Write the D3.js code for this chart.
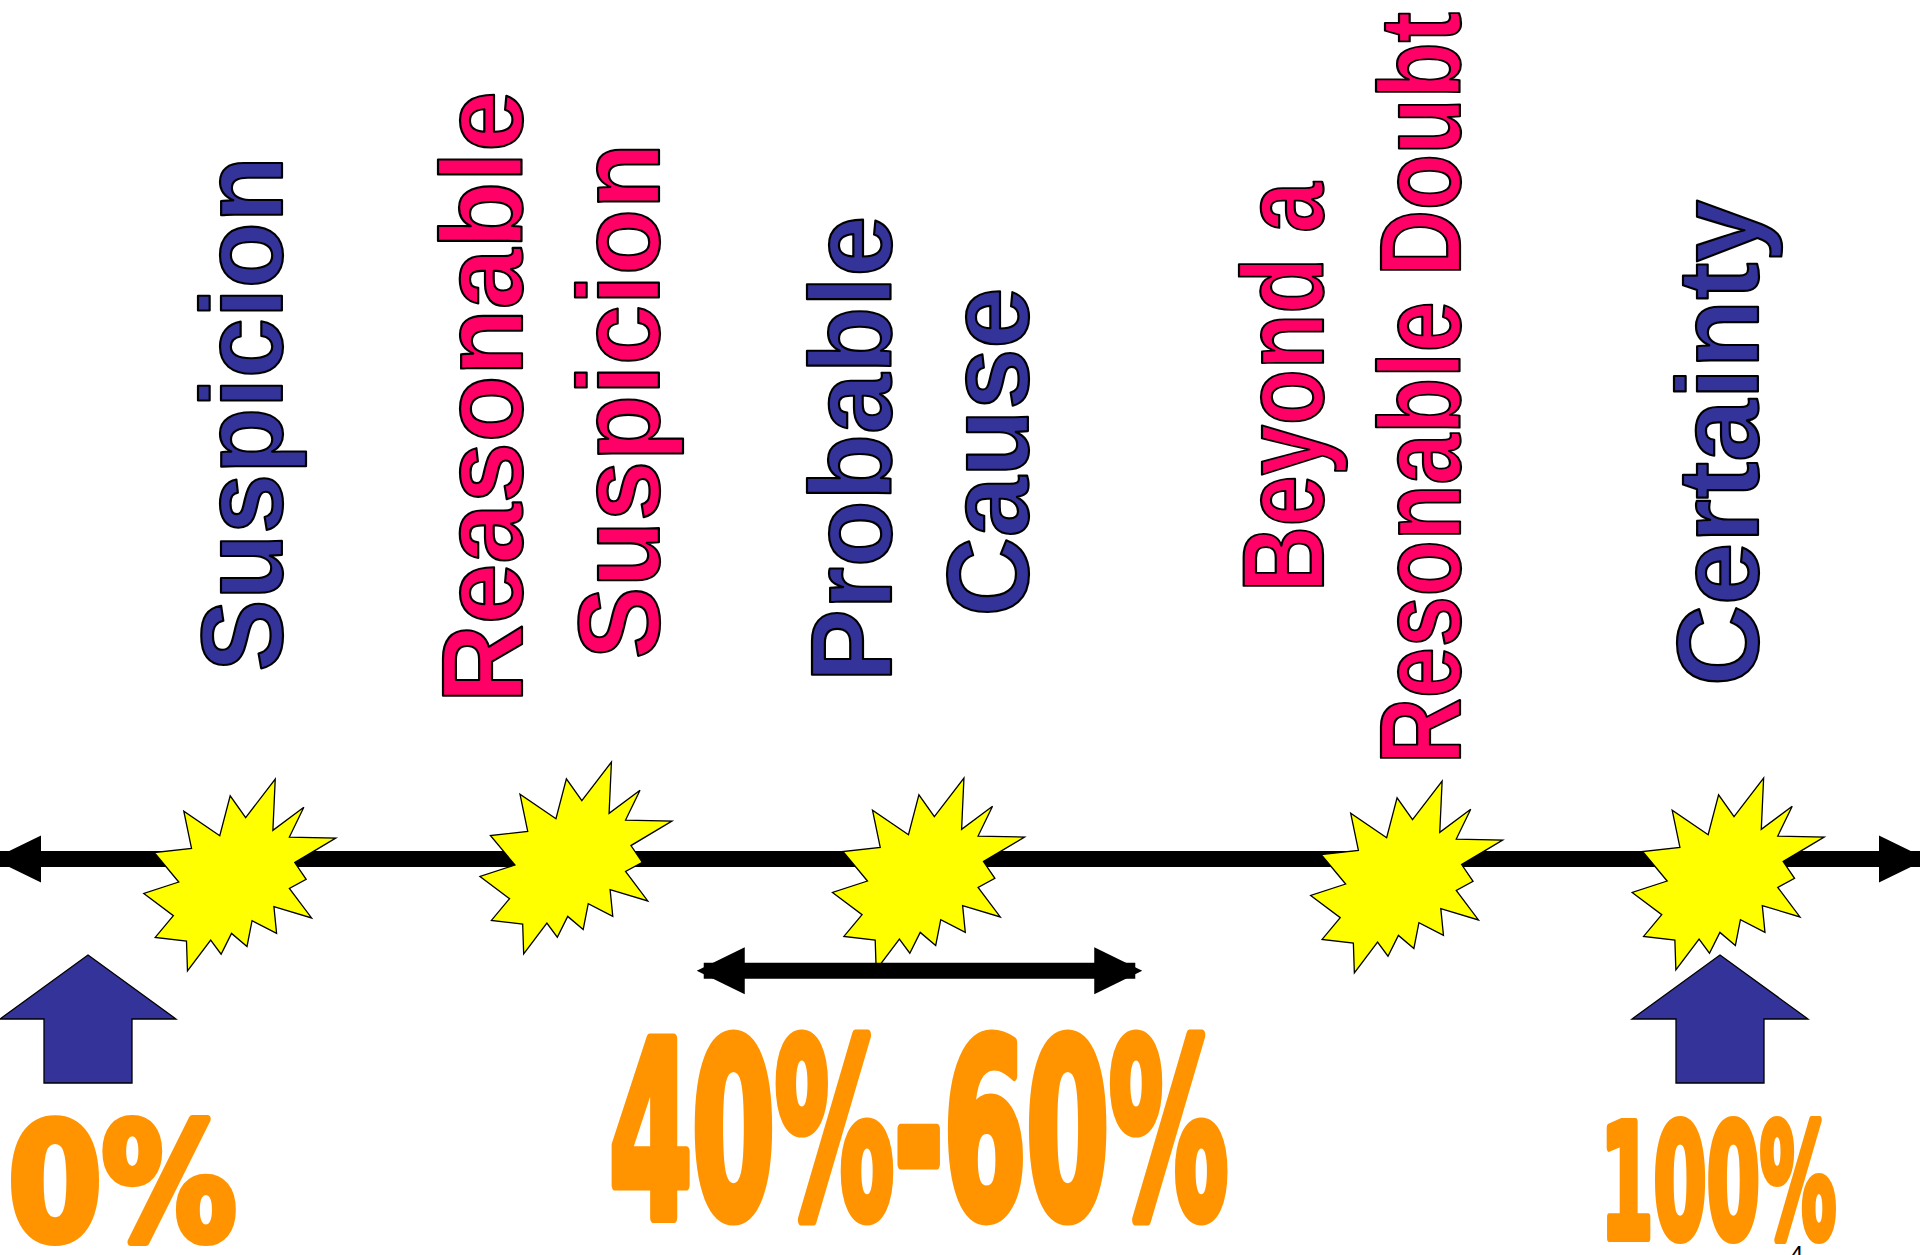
<!DOCTYPE html>
<html><head><meta charset="utf-8">
<script src="https://cdn.jsdelivr.net/npm/d3@7"></script>
<style>html,body{margin:0;padding:0;background:#fff;overflow:hidden}</style>
</head><body>
<svg id="chart" width="1920" height="1255"></svg>
<script>
// ---------- data ----------
const scaleDomain = [0, 100];                 // probability scale, percent
const endpointValues = [0, 100];              // big up-arrows
const standardNames = ["Suspicion", "Reasonable Suspicion", "Probable Cause", "Beyond a Resonable Doubt", "Certainty"];
const labelLines = [["Suspicion"], ["Reasonable", "Suspicion"], ["Probable", "Cause"], ["Beyond a", "Resonable Doubt"], ["Certainty"]];
const standardValues = [9.3, 29.9, 51.5, 80.8, 100.5];   // where each burst sits on the scale
const labelValues = [11.9, 26.6, 49.2, 75.7, 102.3];     // where each rotated label sits on the scale
const rangeValues = [37.3, 64.6];                         // double-headed range arrow
const percentLabels = ["0%", "40%-60%", "100%"];
const percentValues = [2.1, 50.9, 99.9];
const pageNumber = "4";

// ---------- layout / style ----------
const W = 1920, H = 1255;
const axisY = 859, rangeY = 970.7;
const NAVY = "#333399", PINK = "#FF0066", ORANGE = "#FF9400", YELLOW = "#FFFF00";
const starSize = 192;
const starDy = [16, -1, 15, 18, 15];
const lineGap = 137;
const lineLayout = [
  [{c: 414, len: 507}],
  [{c: 397, len: 604}, {c: 401, len: 508}],
  [{c: 449, len: 458}, {c: 452, len: 321}],
  [{c: 387, len: 402}, {c: 388, len: 744}],
  [{c: 443, len: 478}]
];
const pctStyle = [
  {size: 162, base: 1239.5, len: 228, sw: 8},
  {size: 245, base: 1217, len: 619, sw: 11},
  {size: 158, base: 1237.5, len: 236, sw: 8}
];
// Explosion-2 outline (unit square 21600)
const burst = [[11462,4342],[14790,0],[14525,5777],[18007,3172],[16380,6532],[21600,6645],[16985,9402],[18270,11290],[16380,12310],[18877,15632],[14640,14350],[14942,17370],[12180,15935],[11612,18842],[9872,17370],[8700,19712],[7527,18125],[4917,21600],[4805,18240],[1285,17825],[3330,15370],[0,12877],[3935,11592],[1172,8270],[5372,7817],[4502,3625],[8550,6382],[9722,1887]];

const svg = d3.select("#chart");
const x = d3.scaleLinear().domain(scaleDomain).range([88, 1720]);

// ---------- main axis with arrowheads ----------
const headL = 48, headH = 23.5;
const gAxis = svg.append("g");
gAxis.append("line").attr("x1", 0).attr("x2", W).attr("y1", axisY).attr("y2", axisY)
  .attr("stroke", "#000").attr("stroke-width", 16);
const tri = (tipX, y, dir) => `M${tipX},${y}L${tipX - dir * headL},${y - headH}L${tipX - dir * headL},${y + headH}Z`;
gAxis.append("path").attr("d", tri(-7, axisY, -1)).attr("fill", "#000");
gAxis.append("path").attr("d", tri(W + 7, axisY, 1)).attr("fill", "#000");

// ---------- bursts ----------
const line = d3.line();
svg.append("g").selectAll("path").data(standardValues).join("path")
  .attr("d", (v, i) => {
    const cx = x(v), cy = axisY + starDy[i];
    const sx = d3.scaleLinear([0, 21600], [cx - starSize / 2, cx + starSize / 2]);
    const sy = d3.scaleLinear([0, 21600], [cy - starSize / 2, cy + starSize / 2]);
    return line(burst.map(p => [sx(p[0]), sy(p[1])])) + "Z";
  })
  .attr("fill", YELLOW).attr("stroke", "#000").attr("stroke-width", 1.3).attr("stroke-linejoin", "miter");

// ---------- range arrow ----------
const gRange = svg.append("g");
gRange.append("line").attr("x1", x(rangeValues[0]) + 7).attr("x2", x(rangeValues[1]) - 7)
  .attr("y1", rangeY).attr("y2", rangeY).attr("stroke", "#000").attr("stroke-width", 16);
gRange.append("path").attr("d", tri(x(rangeValues[0]), rangeY, -1)).attr("fill", "#000");
gRange.append("path").attr("d", tri(x(rangeValues[1]), rangeY, 1)).attr("fill", "#000");

// ---------- up arrows ----------
const tipY = 955, wingY = 1019, botY = 1083, halfW = 88, stemW = 44;
svg.append("g").selectAll("path").data(endpointValues).join("path")
  .attr("d", v => {
    const c = x(v);
    return `M${c},${tipY}L${c + halfW},${wingY}L${c + stemW},${wingY}L${c + stemW},${botY}L${c - stemW},${botY}L${c - stemW},${wingY}L${c - halfW},${wingY}Z`;
  })
  .attr("fill", NAVY).attr("stroke", "#000").attr("stroke-width", 1.3);

// ---------- rotated labels ----------
const gLab = svg.append("g");
labelLines.forEach((lines, i) => {
  lines.forEach((t, j) => {
    const L = lineLayout[i][j];
    const bx = x(labelValues[i]) + j * lineGap;
    gLab.append("text")
      .attr("transform", `translate(${bx},${L.c}) rotate(-90)`)
      .attr("text-anchor", "middle")
      .attr("font-family", "'Liberation Sans', Arial, sans-serif")
      .attr("font-weight", "bold")
      .attr("font-size", 115)
      .attr("textLength", L.len + 8)
      .attr("lengthAdjust", "spacingAndGlyphs")
      .attr("fill", i % 2 === 0 ? NAVY : PINK)
      .attr("stroke", "#000").attr("stroke-width", 2.2).attr("stroke-linejoin", "round")
      .text(t);
  });
});

// ---------- percent labels ----------
svg.append("g").selectAll("text").data(percentLabels).join("text")
  .attr("x", (d, i) => x(percentValues[i]))
  .attr("y", (d, i) => pctStyle[i].base)
  .attr("text-anchor", "middle")
  .attr("font-family", "'DejaVu Sans Condensed', 'DejaVu Sans', sans-serif")
  .attr("font-stretch", "condensed")
  .attr("font-weight", "bold")
  .attr("font-size", (d, i) => pctStyle[i].size)
  .attr("textLength", (d, i) => pctStyle[i].len)
  .attr("lengthAdjust", "spacingAndGlyphs")
  .attr("fill", ORANGE)
  .attr("stroke", ORANGE).attr("stroke-width", (d, i) => pctStyle[i].sw).attr("stroke-linejoin", "round")
  .text(d => d);

// ---------- page number ----------
svg.append("text").attr("x", 1790).attr("y", 1263)
  .attr("font-family", "'Liberation Sans', Arial, sans-serif").attr("font-size", 24)
  .attr("fill", "#000").text(pageNumber);
</script>
</body></html>
